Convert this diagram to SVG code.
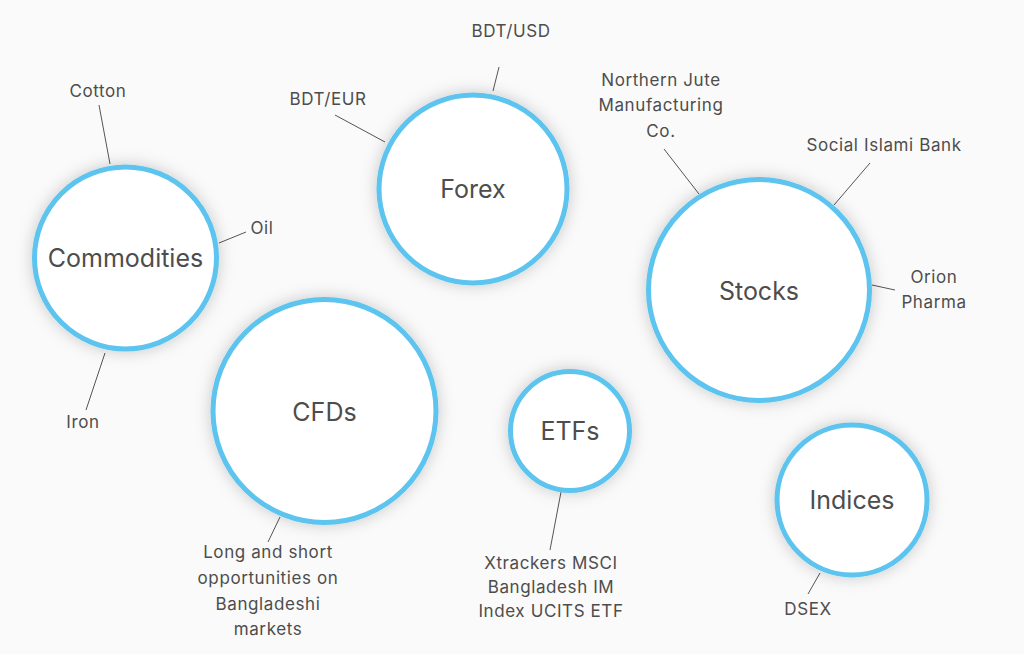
<svg xmlns="http://www.w3.org/2000/svg" width="1024" height="654" viewBox="0 0 1024 654">
<defs>
<filter id="sh" x="-30%" y="-30%" width="160%" height="160%">
<feDropShadow dx="0" dy="0" stdDeviation="8" flood-color="#000" flood-opacity="0.2"/>
</filter>
</defs>
<style>
.n circle{fill:#fff;stroke:#5bc4ee;stroke-width:5;filter:url(#sh)}
.t{font-family:Inter,"Noto Sans","Liberation Sans",sans-serif;font-size:25px;fill:#4d4d4d;text-anchor:middle}
.l{font-family:Inter,"Noto Sans","Liberation Sans",sans-serif;font-size:17px;letter-spacing:0.6px;fill:#4d4d4d;text-anchor:middle}
#connectors line{stroke:#555;stroke-width:1}
</style>
<rect width="1024" height="654" fill="#fafafa"/>
<g id="connectors">
<line x1="99" y1="105" x2="110" y2="164"/>
<line x1="219" y1="243" x2="246" y2="232"/>
<line x1="105" y1="353" x2="86" y2="410"/>
<line x1="335" y1="115" x2="385" y2="142"/>
<line x1="499" y1="67" x2="493" y2="91"/>
<line x1="664" y1="149" x2="699" y2="194"/>
<line x1="870" y1="163" x2="834" y2="205"/>
<line x1="895" y1="290" x2="872" y2="285"/>
<line x1="280" y1="517" x2="268" y2="542"/>
<line x1="561" y1="492" x2="550" y2="550"/>
<line x1="820" y1="573" x2="808" y2="594"/>
</g>
<g id="commodities" class="n">
<circle cx="125.5" cy="258" r="91"/>
<text class="t" x="125.5" y="267">Commodities</text>
<text class="l" x="98" y="97">Cotton</text>
<text class="l" x="262" y="234">Oil</text>
<text class="l" x="83" y="428">Iron</text>
</g>
<g id="forex" class="n">
<circle cx="473" cy="189" r="94"/>
<text class="t" x="473" y="198">Forex</text>
<text class="l" x="328" y="105">BDT/EUR</text>
<text class="l" x="511" y="37">BDT/USD</text>
</g>
<g id="stocks" class="n">
<circle cx="759" cy="290" r="110.5"/>
<text class="t" x="759" y="300">Stocks</text>
<text class="l" x="661" y="86">Northern Jute</text>
<text class="l" x="661" y="111">Manufacturing</text>
<text class="l" x="661" y="137">Co.</text>
<text class="l" x="884" y="151">Social Islami Bank</text>
<text class="l" x="934" y="283">Orion</text>
<text class="l" x="934" y="308">Pharma</text>
</g>
<g id="cfds" class="n">
<circle cx="324.5" cy="411" r="111.5"/>
<text class="t" x="324.5" y="421">CFDs</text>
<text class="l" x="268" y="558">Long and short</text>
<text class="l" x="268" y="584">opportunities on</text>
<text class="l" x="268" y="610">Bangladeshi</text>
<text class="l" x="268" y="635">markets</text>
</g>
<g id="etfs" class="n">
<circle cx="570" cy="431" r="59.5"/>
<text class="t" x="570" y="440">ETFs</text>
<text class="l" x="551" y="569">Xtrackers MSCI</text>
<text class="l" x="551" y="593">Bangladesh IM</text>
<text class="l" x="551" y="617">Index UCITS ETF</text>
</g>
<g id="indices" class="n">
<circle cx="852" cy="500" r="75"/>
<text class="t" x="852" y="509">Indices</text>
<text class="l" x="808" y="615">DSEX</text>
</g>
</svg>
